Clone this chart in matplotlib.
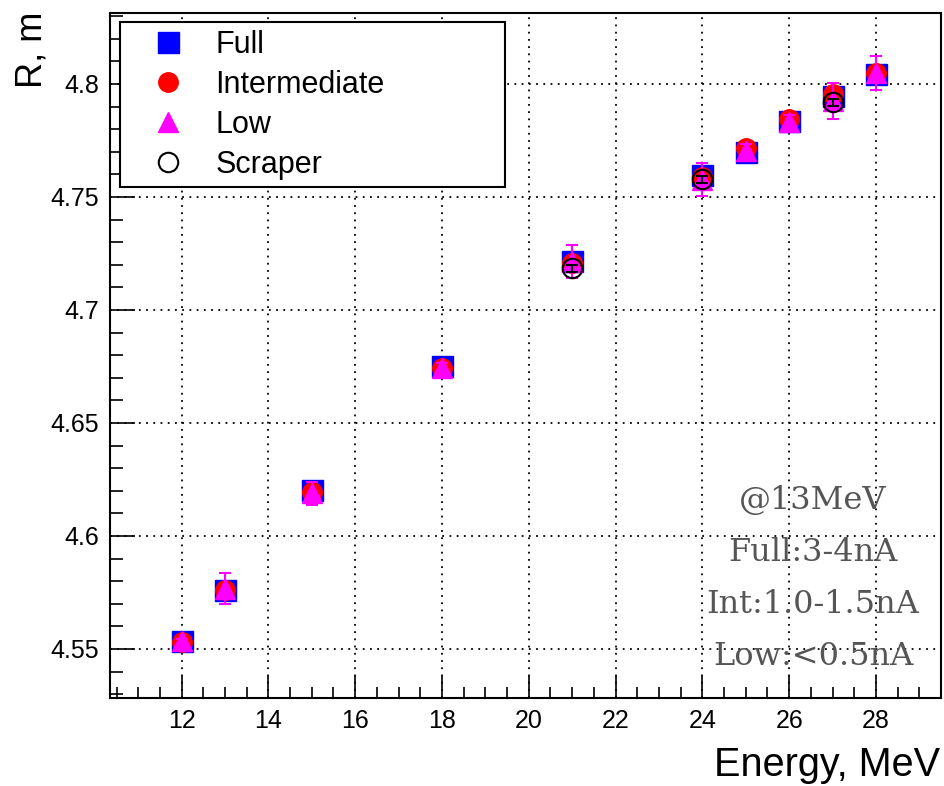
import matplotlib
matplotlib.use("Agg")
import matplotlib.pyplot as plt
from matplotlib.ticker import MultipleLocator

plt.rcParams['font.family'] = ['Liberation Sans', 'DejaVu Sans']

# beam energy, MeV
energy = [12, 13, 15, 18, 21, 24, 25, 26, 27, 28]
# radius, m
full = [4.5535, 4.5762, 4.6205, 4.6752, 4.7218, 4.7597, 4.7700, 4.7836, 4.7948, 4.8046]
inter = [4.5530, 4.5759, 4.6196, 4.6744, 4.7208, 4.7586, 4.7717, 4.7843, 4.7956, 4.8050]
low = [4.5533, 4.5766, 4.6188, 4.6743, 4.7214, 4.7577, 4.7703, 4.7833, 4.7925, 4.8048]
low_err = [0.001, 0.0069, 0.005, 0.002, 0.0074, 0.0072, 0.003, 0.003, 0.0078, 0.0075]
scr_energy = [21, 24, 27]
scraper = [4.7185, 4.7578, 4.7918]
scr_err = [0.0015, 0.0015, 0.0015]

note_lines = ["@13MeV", "Full:3-4nA", "Int:1.0-1.5nA", "Low:<0.5nA"]

fig = plt.figure(figsize=(9.45, 7.86), dpi=100)
ax = fig.add_axes([0.1164, 0.112, 0.8794, 0.8715])

ms = 14
ax.plot(energy, full, ls='none', marker='s', ms=ms * 1.08, color='#0000ff', mec='#0000ff', label='Full', zorder=3)
ax.plot(energy, inter, ls='none', marker='o', ms=ms, color='#ff0000', mec='#ff0000', label='Intermediate', zorder=4)
ax.errorbar(energy, low, yerr=low_err, ls='none', marker='none', ecolor='#ff00ff',
            elinewidth=1.5, capsize=4, capthick=1.5, zorder=5)
ax.plot(energy, low, ls='none', marker='^', ms=ms, color='#ff00ff', mec='#ff00ff', label='Low', zorder=5)
ax.errorbar(scr_energy, scraper, yerr=scr_err, ls='none', marker='none',
            ecolor='black', elinewidth=1.5, capsize=4, capthick=1.5, zorder=6)
ax.plot(scr_energy, scraper, ls='none', marker='o', ms=ms, mfc='none', mec='black', mew=1.5,
        label='Scraper', zorder=6)

ax.set_xlim(10.35, 29.5)
ax.set_ylim(4.5283, 4.8314)

ax.xaxis.set_major_locator(MultipleLocator(2))
ax.xaxis.set_minor_locator(MultipleLocator(0.5))
ax.yaxis.set_major_locator(MultipleLocator(0.05))
ax.yaxis.set_minor_locator(MultipleLocator(0.01))
ax.yaxis.set_major_formatter(plt.FuncFormatter(lambda v, p: f"{v:g}"))

ax.tick_params(axis='both', which='both', direction='in', top=False, right=False, labelsize=18, width=1.2)
ax.tick_params(axis='x', which='major', length=16, pad=8)
ax.tick_params(axis='x', which='minor', length=8)
ax.tick_params(axis='y', which='major', length=18, pad=8)
ax.tick_params(axis='y', which='minor', length=9)

ax.grid(True, which='major', color='black', linestyle=(0, (1, 3)), linewidth=1.3)
for s in ax.spines.values():
    s.set_linewidth(1.5)

leg = ax.legend(loc='upper left', bbox_to_anchor=(0.012, 0.749, 0.463, 0.238), mode='expand',
                borderaxespad=0, fontsize=22, frameon=True, fancybox=False, edgecolor='black',
                framealpha=1, labelspacing=0.33, handletextpad=0.26, borderpad=0.25, handlelength=2.62)
leg.get_frame().set_linewidth(1.5)

for i, line in enumerate(note_lines):
    ax.text(0.846, 0.288 - i * 0.076, line, transform=ax.transAxes, ha='center', va='center',
            fontsize=23, color='#555555', family=['DejaVu Serif'])

fig.text(0.995, 0.003, 'Energy, MeV', ha='right', va='bottom', fontsize=28.5)
fig.text(0.034, 0.985, 'R, m', ha='center', va='top', rotation=90, fontsize=26)

fig.savefig('out.png', dpi=100)
